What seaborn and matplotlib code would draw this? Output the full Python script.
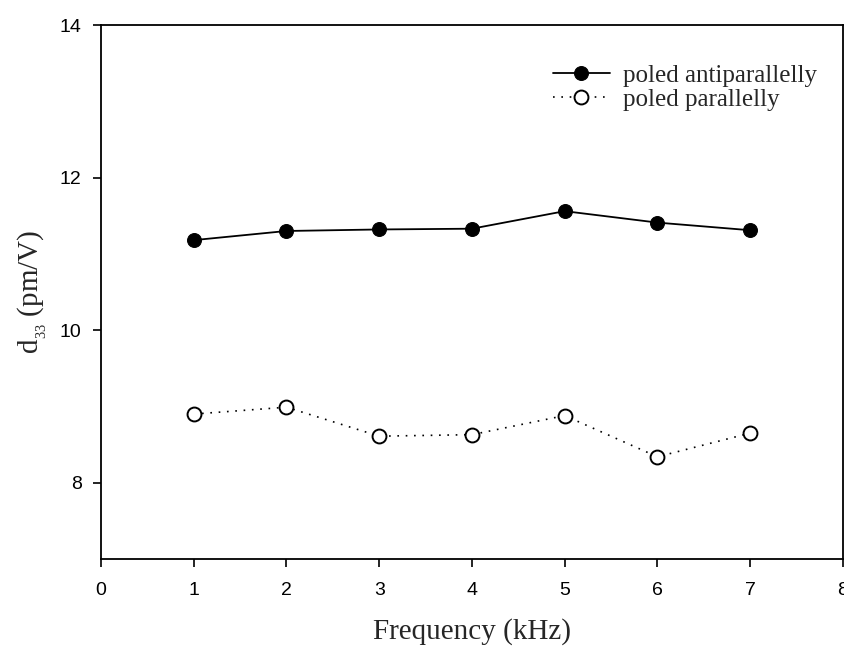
import matplotlib
matplotlib.use("Agg")
import matplotlib.pyplot as plt
import seaborn as sns
import pandas as pd

freq = [1, 2, 3, 4, 5, 6, 7]
antiparallel = [11.18, 11.30, 11.32, 11.33, 11.56, 11.41, 11.31]
parallel = [8.90, 8.99, 8.61, 8.63, 8.88, 8.34, 8.65]
x_ticks = [0, 1, 2, 3, 4, 5, 6, 7, 8]
y_ticks = [8, 10, 12, 14]

sns.set_theme(style="ticks")
plt.rcParams['font.family'] = ['Liberation Sans', 'DejaVu Sans']

fig = plt.figure(figsize=(8.45, 6.5), dpi=100)
ax = fig.add_axes([0.1195, 0.14, 0.878, 0.8215])

df_a = pd.DataFrame({"f": freq, "d": antiparallel})
df_p = pd.DataFrame({"f": freq, "d": parallel})

sns.lineplot(data=df_a, x="f", y="d", ax=ax, color="black", lw=1.3,
             marker="o", markersize=10, markerfacecolor="black",
             markeredgecolor="black", label="poled antiparallelly")
sns.lineplot(data=df_p, x="f", y="d", ax=ax, color="black", lw=1.2,
             linestyle=(0, (1, 4)), marker="o", markersize=10,
             markerfacecolor="white", markeredgecolor="black",
             markeredgewidth=1.4, label="poled parallelly")

ax.set_xlim(0, 8)
ax.set_ylim(7, 14)
ax.set_xticks(x_ticks)
ax.set_yticks(y_ticks)
ax.tick_params(axis="both", labelsize=14, direction="out", length=6,
               width=1.2, color="black", labelcolor="black", top=False, right=False)
ax.tick_params(axis="x", pad=10.5)
ax.tick_params(axis="y", pad=8)
for s in ax.spines.values():
    s.set_linewidth(1.3)
    s.set_color("black")

ax.set_xlabel("Frequency (kHz)", family="Liberation Serif", fontsize=21, labelpad=14)
ax.set_ylabel(r"d$_{_{\mathregular{33}}}$ (pm/V)", family="Liberation Serif", fontsize=21, labelpad=8)

leg = ax.legend(loc="upper left", bbox_to_anchor=(0.609, 0.926), frameon=False,
                prop={"family": "Liberation Serif", "size": 18},
                borderpad=0, borderaxespad=0,
                handlelength=2.28, handletextpad=0.52, labelspacing=0.05)

fig.savefig("out.png", dpi=100)
